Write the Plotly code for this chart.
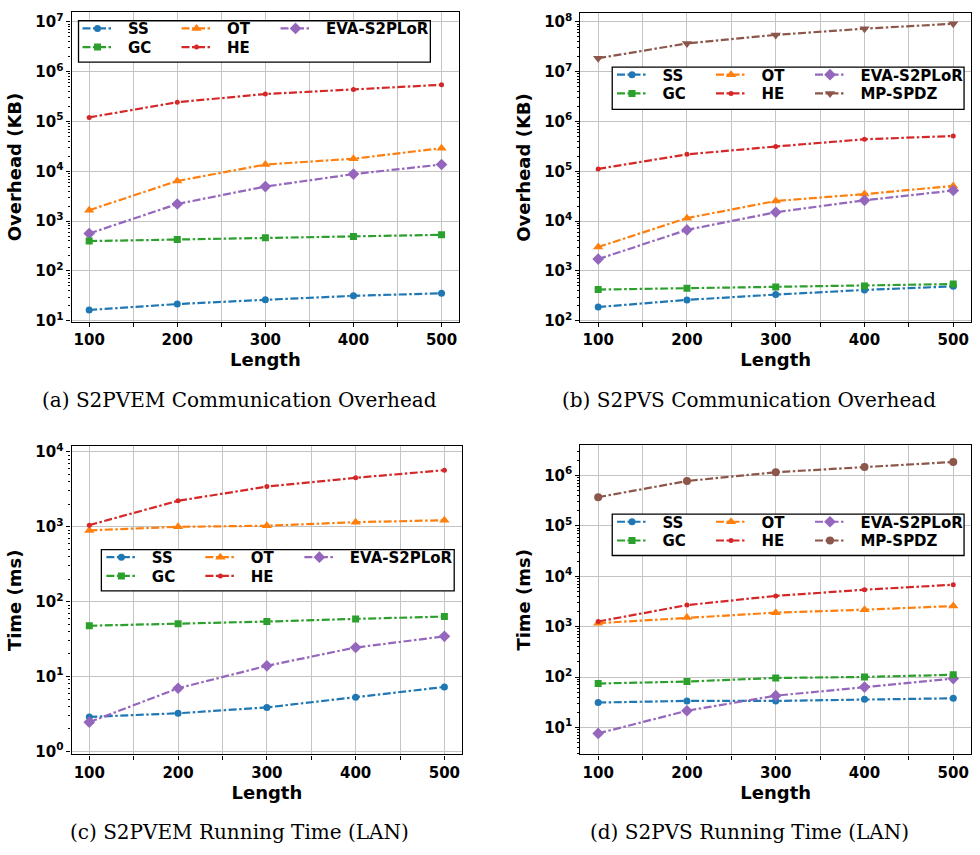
import plotly.graph_objects as go

# ---------------- data ----------------
lengths = [100, 200, 300, 400, 500]
x_ticks = [100, 200, 300, 400, 500]

# (a) S2PVEM Communication Overhead (KB)
a_ss = [16.5, 21.7, 26.4, 31.7, 35.7]
a_gc = [398, 430, 465, 493, 532]
a_ot = [1660, 6400, 13700, 17900, 29200]
a_he = [121000, 244000, 356000, 441000, 546000]
a_eva = [565, 2210, 4950, 8800, 13700]

# (b) S2PVS Communication Overhead (KB)
b_ss = [189, 263, 336, 416, 492]
b_gc = [423, 449, 477, 499, 547]
b_ot = [3030, 11500, 25400, 34900, 51000]
b_he = [112000, 219000, 315000, 440000, 512000]
b_eva = [1730, 6680, 15100, 26200, 41200]
b_mp = [18600000, 36900000, 54700000, 73000000, 91600000]

# (c) S2PVEM Running Time (LAN) (ms)
c_ss = [2.89, 3.23, 3.87, 5.30, 7.26]
c_gc = [47.6, 50.5, 54.2, 58.8, 63.1]
c_ot = [893, 997, 1030, 1150, 1220]
c_he = [1050, 2220, 3430, 4500, 5680]
c_eva = [2.46, 6.97, 13.9, 24.4, 34.4]

# (d) S2PVS Running Time (LAN) (ms)
d_ss = [31.3, 33.7, 33.7, 36.3, 38.0]
d_gc = [74.5, 81.5, 96.1, 100.7, 111]
d_ot = [1175, 1517, 1900, 2175, 2565]
d_he = [1268, 2680, 4080, 5420, 6790]
d_eva = [7.64, 21.5, 42.8, 63.3, 93.3]
d_mp = [371000, 775000, 1160000, 1477000, 1850000]

captions = ["(a) S2PVEM Communication Overhead", "(b) S2PVS Communication Overhead",
            "(c) S2PVEM Running Time (LAN)", "(d) S2PVS Running Time (LAN)"]
y_titles = ["Overhead (KB)", "Overhead (KB)", "Time (ms)", "Time (ms)"]
x_title = "Length"

# ---------------- styles ----------------
W, H = 980, 855
C = {"SS": "#1f77b4", "GC": "#2ca02c", "OT": "#ff7f0e", "HE": "#d62728",
     "EVA-S2PLoR": "#9467bd", "MP-SPDZ": "#8c564b"}
DASH = "8px,2.5px,2.5px,2.5px"
GRID = "#c4c4c4"
SANS = "DejaVu Sans"
PAD = "\u00a0\u00a0"  # matplotlib-like gap between legend handle and label

def xd(l, r):
    return [l / W, r / W]

def yd(t, b):
    return [1 - b / H, 1 - t / H]

panels = [
    dict(name="a", xa="x", ya="y", dx=xd(72, 462), dy=yd(7, 322), yr=[0.974, 7.2], dec=range(1, 8),
         series=[("SS", a_ss, "circle", 7, 1), ("OT", a_ot, "triangle-up", 9, 1),
                 ("EVA-S2PLoR", a_eva, "diamond", 9, 1), ("GC", a_gc, "square", 7, 2),
                 ("HE", a_he, "circle", 5, 2)],
         box=(79, 16, 433, 58), rows=(24, 43), sx=83),
    dict(name="b", xa="x2", ya="y2", dx=xd(584, 977), dy=yd(8, 322), yr=[1.974, 8.18], dec=range(2, 9),
         series=[("SS", b_ss, "circle", 7, 1), ("OT", b_ot, "triangle-up", 9, 1),
                 ("EVA-S2PLoR", b_eva, "diamond", 9, 1), ("GC", b_gc, "square", 7, 2),
                 ("HE", b_he, "circle", 5, 2), ("MP-SPDZ", b_mp, "triangle-down", 9, 2)],
         box=(616, 63, 970, 106), rows=(71, 90), sx=621),
    dict(name="c", xa="x3", ya="y3", dx=xd(72, 465), dy=yd(448, 761), yr=[-0.04, 4.075], dec=range(0, 5),
         series=[("SS", c_ss, "circle", 7, 1), ("OT", c_ot, "triangle-up", 9, 1),
                 ("EVA-S2PLoR", c_eva, "diamond", 9, 1), ("GC", c_gc, "square", 7, 2),
                 ("HE", c_he, "circle", 5, 2)],
         box=(102, 553, 457, 595), rows=(561, 580), sx=107),
    dict(name="d", xa="x4", ya="y4", dx=xd(584, 977), dy=yd(447, 761), yr=[0.466, 6.6], dec=range(1, 7),
         series=[("SS", d_ss, "circle", 7, 1), ("OT", d_ot, "triangle-up", 9, 1),
                 ("EVA-S2PLoR", d_eva, "diamond", 9, 1), ("GC", d_gc, "square", 7, 2),
                 ("HE", d_he, "circle", 5, 2), ("MP-SPDZ", d_mp, "circle", 8, 2)],
         box=(616, 517, 970, 559), rows=(525, 544), sx=621),
]

fig = go.Figure()
layout = dict(width=W, height=H, margin=dict(l=0, r=0, t=0, b=0),
              paper_bgcolor="white", plot_bgcolor="white", showlegend=True,
              font=dict(family=SANS, color="black"))
shapes, annotations = [], []
caption_pos = [(241, 401), (754, 401), (241, 840), (754, 840)]

tick_font = dict(family=SANS, size=15, color="black", weight="bold")
title_font = dict(family=SANS, size=18, color="black", weight="bold")

for i, p in enumerate(panels):
    leg1 = "legend" if i == 0 else f"legend{2 * i + 1}"
    leg2 = f"legend{2 * i + 2}"
    for (nm, vals, sym, size, row) in p["series"]:
        fig.add_trace(go.Scatter(
            x=lengths, y=vals, name=PAD + nm, xaxis=p["xa"], yaxis=p["ya"],
            mode="lines+markers",
            line=dict(color=C[nm], width=2.2, dash=DASH),
            marker=dict(symbol=sym, size=size, color=C[nm]),
            legend=leg1 if row == 1 else leg2,
            legendwidth=125 if nm in ("EVA-S2PLoR", "MP-SPDZ") else None,
        ))
    xkey = "xaxis" if i == 0 else f"xaxis{i + 1}"
    ykey = "yaxis" if i == 0 else f"yaxis{i + 1}"
    layout[xkey] = dict(
        domain=p["dx"], anchor=p["ya"], range=[80, 520],
        tickmode="array", tickvals=x_ticks, ticktext=[str(v) for v in x_ticks],
        ticks="outside", ticklen=4, tickwidth=1.2, tickcolor="black",
        tickfont=tick_font, showgrid=True, gridcolor=GRID, gridwidth=1.4,
        minor=dict(tick0=100, dtick=50, ticks="outside", ticklen=4, tickwidth=1.2,
                   tickcolor="black", showgrid=True, gridcolor=GRID, gridwidth=1.4),
        showline=True, linecolor="black", linewidth=1.2, mirror=True, zeroline=False,
        title=dict(text=x_title, font=title_font, standoff=4),
    )
    layout[ykey] = dict(
        domain=p["dy"], anchor=p["xa"], type="log", range=p["yr"],
        tickmode="array", tickvals=[10 ** k for k in p["dec"]],
        ticktext=[f"10<sup>{k}</sup>" for k in p["dec"]],
        ticks="outside", ticklen=4, tickwidth=1.2, tickcolor="black",
        tickfont=tick_font, showgrid=True, gridcolor=GRID, gridwidth=1.4,
        minor=dict(dtick="D1", ticks="outside", ticklen=2, tickwidth=1,
                   tickcolor="black", showgrid=False),
        showline=True, linecolor="black", linewidth=1.2, mirror=True, zeroline=False,
        title=dict(text=y_titles[i], font=title_font, standoff=8),
    )
    # extra horizontal grid at 3x10^k (as in the reference)
    okey = f"yaxis{i + 5}"
    layout[okey] = dict(
        overlaying=p["ya"], anchor=p["xa"], type="log", range=p["yr"],
        tickmode="array", tickvals=[3 * 10 ** k for k in range(-1, 9)],
        showticklabels=False, ticks="", showgrid=True, gridcolor=GRID, gridwidth=1.4,
        showline=False, zeroline=False,
    )
    # legend frame
    bx0, by0, bx1, by1 = p["box"]
    shapes.append(dict(type="rect", xref="paper", yref="paper",
                       x0=bx0 / W, x1=bx1 / W, y0=1 - by1 / H, y1=1 - by0 / H,
                       line=dict(color="black", width=1.3), fillcolor="white", layer="above"))
    for leg, ry in ((leg1, p["rows"][0]), (leg2, p["rows"][1])):
        layout[leg] = dict(
            orientation="h", x=(p["sx"] - 5) / W, xanchor="left",
            y=1 - ry / H, yanchor="middle", bgcolor="rgba(0,0,0,0)", borderwidth=0,
            font=dict(family=SANS, size=15, color="black", weight="bold"),
            itemwidth=30, entrywidth=54, entrywidthmode="pixels",
            traceorder="normal", itemclick=False, itemdoubleclick=False,
        )
    cx, cy = caption_pos[i]
    annotations.append(dict(text=captions[i], xref="paper", yref="paper",
                            x=cx / W, y=1 - cy / H, xanchor="center", yanchor="middle",
                            showarrow=False, font=dict(family="DejaVu Serif", size=20, color="black")))

layout["shapes"] = shapes
layout["annotations"] = annotations
fig.update_layout(**layout)
fig.write_html("out.html", config={"displayModeBar": False},
               post_script="document.body.style.margin='0';document.body.style.overflow='hidden';")
